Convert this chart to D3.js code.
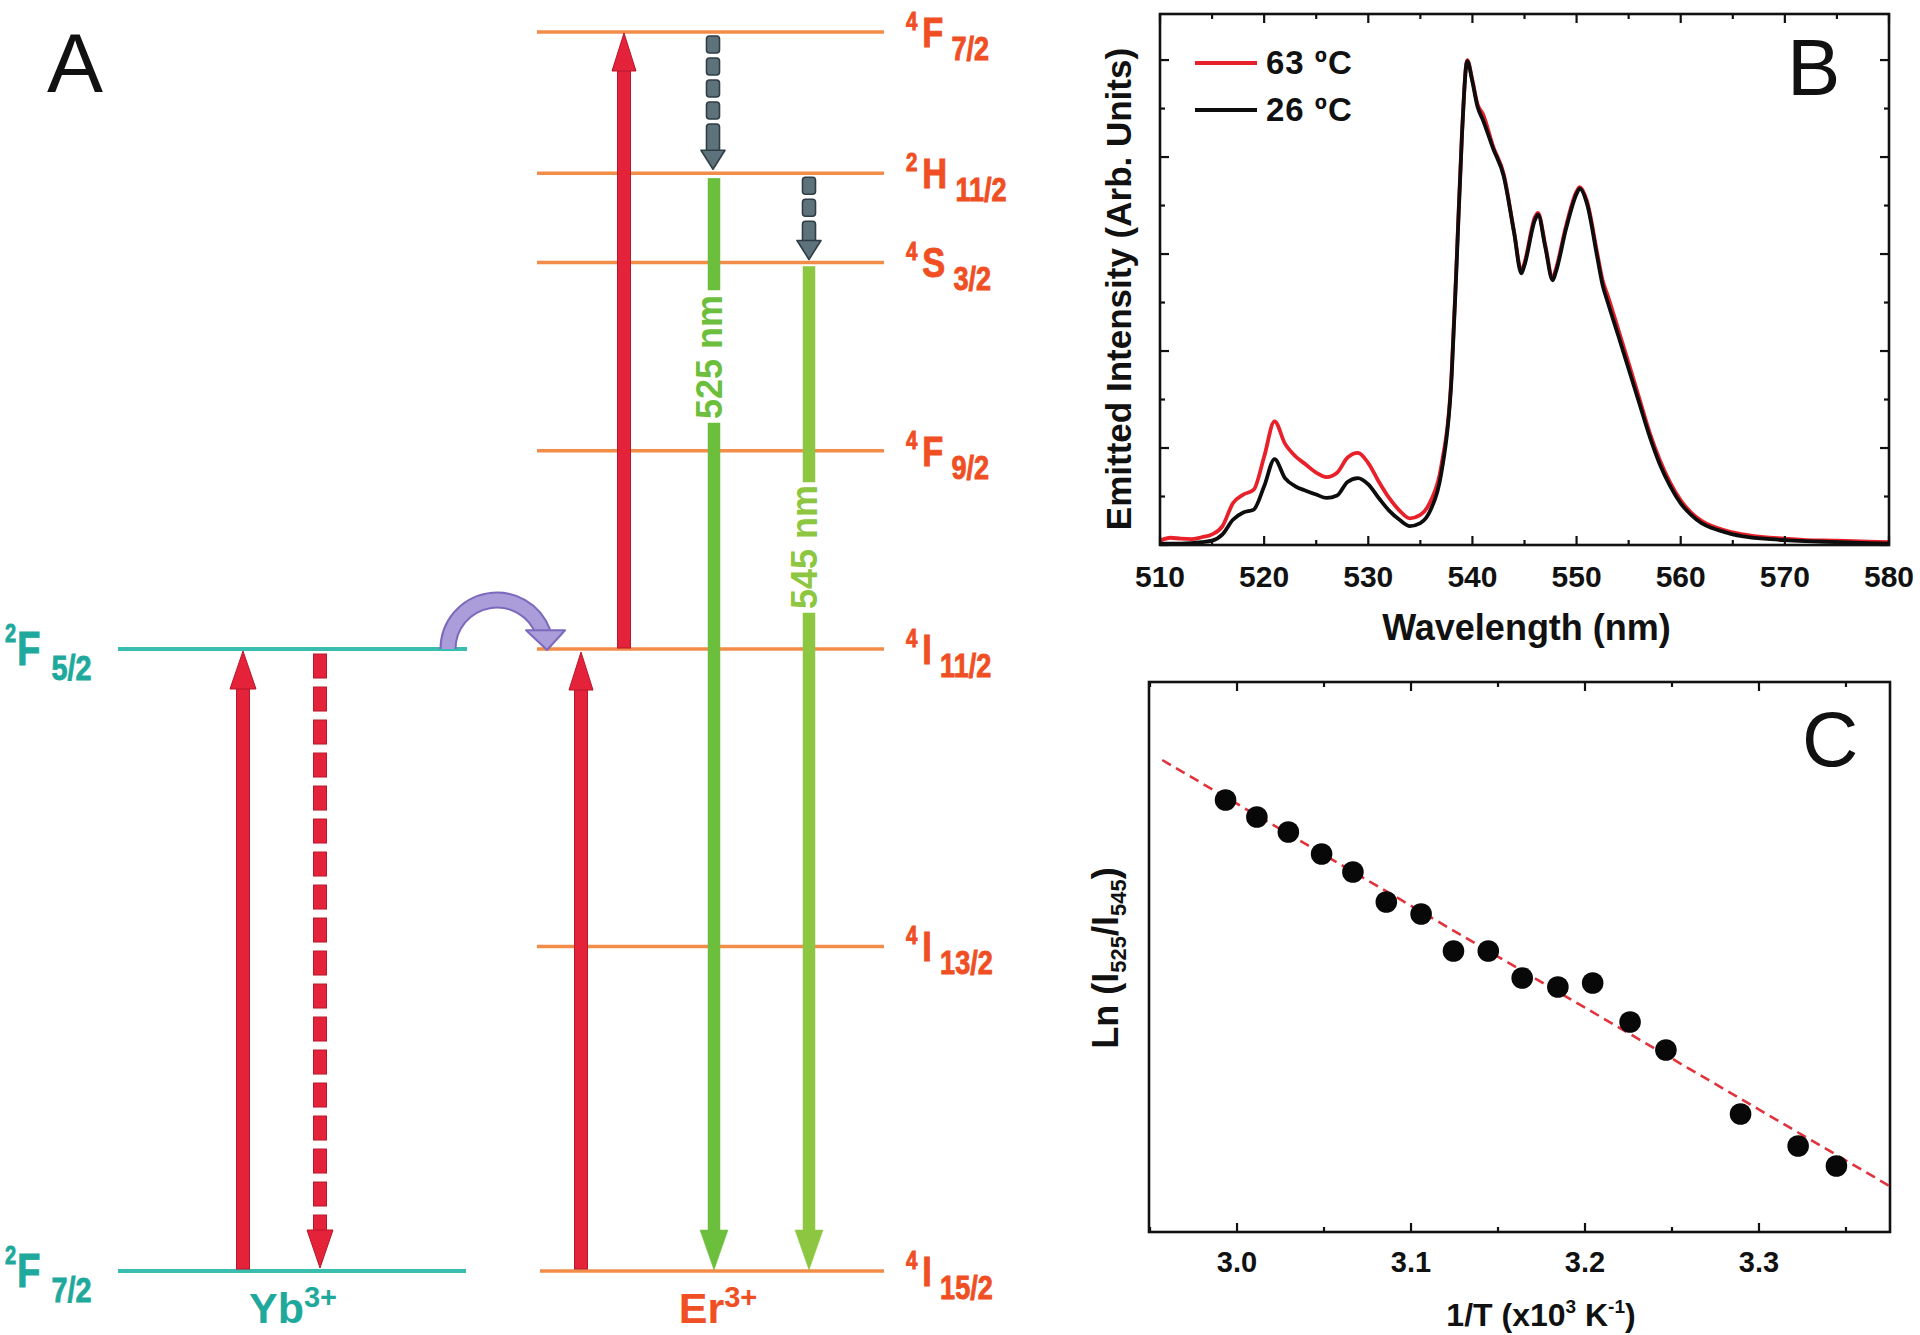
<!DOCTYPE html>
<html><head><meta charset="utf-8">
<script src="https://cdn.jsdelivr.net/npm/d3@7/dist/d3.min.js"></script>
<style>
html,body{margin:0;padding:0;background:#fff;}
svg{display:block;font-family:"Liberation Sans",Arial,Helvetica,sans-serif;}
</style></head>
<body>
<svg id="c" width="1920" height="1335"></svg>
<script>
// ---------------- DATA ----------------
// Panel B: emission spectra
const wavelength = [510,511,512,513,514,515,516,517,518,519,520,521,522,523,524,525,526,527,528,529,530,531,532,533,534,535,536,537,538,538.5,539,539.5,540,540.5,541,542,543,544,544.7,545,546,546.3,547,547.7,548,549,550,550.3,551,552,552.5,553,554,555,556,557,558,559,560,561,562,563,564,565,566,568,570,572,575,578,580];
const intensity26 = [0.03,0.03,0.03,0.04,0.06,0.09,0.22,0.52,0.67,0.73,1.21,1.77,1.38,1.21,1.12,1.04,0.97,1.02,1.30,1.38,1.25,0.97,0.71,0.52,0.39,0.45,0.73,1.47,3.46,5.88,8.47,9.98,9.55,9.03,8.77,8.17,7.61,6.44,5.60,5.77,6.70,6.81,6.14,5.46,5.62,6.53,7.24,7.35,7.04,5.92,5.36,5.00,4.32,3.63,2.94,2.25,1.66,1.21,0.86,0.62,0.45,0.35,0.28,0.22,0.18,0.13,0.10,0.08,0.06,0.04,0.03];
const intensity63 = [0.09,0.15,0.13,0.12,0.16,0.22,0.39,0.86,1.04,1.14,1.82,2.55,2.09,1.83,1.66,1.49,1.40,1.49,1.80,1.90,1.69,1.31,0.97,0.71,0.55,0.62,0.91,1.62,3.54,5.95,8.51,10.0,9.58,9.08,8.89,8.21,7.65,6.46,5.65,5.82,6.76,6.85,6.18,5.51,5.68,6.59,7.29,7.38,7.09,6.00,5.46,5.14,4.45,3.75,3.04,2.33,1.75,1.28,0.92,0.67,0.50,0.39,0.32,0.26,0.22,0.16,0.13,0.10,0.09,0.07,0.06];
const seriesNames = ["63 \u00BAC","26 \u00BAC"];
const wlTicks = [510,520,530,540,550,560,570,580];
const wlMinorTicks = [515,525,535,545,555,565,575];
const intTicks = [0,1,2,3,4,5,6,7,8,9,10];

// Panel C: Ln(I525/I545) vs 1/T
const invT = [2.9934,3.0114,3.0295,3.0486,3.0666,3.0858,3.1058,3.1244,3.1444,3.1639,3.1844,3.2044,3.2259,3.2465,3.2894,3.3225,3.3445];
const lnRatio = [-1.618,-1.635,-1.650,-1.672,-1.690,-1.720,-1.732,-1.769,-1.769,-1.796,-1.805,-1.801,-1.840,-1.868,-1.932,-1.964,-1.984];
const fitX = [2.957,3.375];
const fitY = [-1.578,-2.004];
const invTTicks = [3.0,3.1,3.2,3.3];
const invTMinorTicks = [2.95,3.05,3.15,3.25,3.35];

// Panel A: energy levels (relative diagram height)
const erSup  = ["4","4","4","4","4","2","4"];
const erTerm = ["I","I","I","F","S","H","F"];
const erJ    = ["15/2","13/2","11/2","9/2","3/2","11/2","7/2"];
const erLevel = [0,26.2,50.2,66.2,81.4,88.6,100];
const ybSup  = ["2","2"];
const ybTerm = ["F","F"];
const ybJ    = ["7/2","5/2"];
const ybLevel = [0,50.2];
const emissionLabels = ["525 nm","545 nm"];

// ---------------- DRAW ----------------
const svg = d3.select("#c");
const INK = "#111";

// ===== Panel B =====
(function(){
  const L=1160,R=1889,T=14,B=545;
  const x = d3.scaleLinear().domain([510,580]).range([L,R]);
  const y = d3.scaleLinear().domain([0,10.95]).range([B,T]);
  const g = svg.append("g");
  svg.append("clipPath").attr("id","clipB").append("rect").attr("x",L).attr("y",T).attr("width",R-L).attr("height",B-T);

  const line = d3.line().x((d,i)=>x(wavelength[i])).y(d=>y(d)).curve(d3.curveMonotoneX);
  g.append("path").datum(intensity63).attr("d",line).attr("fill","none").attr("stroke","#e8202a").attr("stroke-width",3.8).attr("clip-path","url(#clipB)");
  g.append("path").datum(intensity26).attr("d",line).attr("fill","none").attr("stroke","#0d0d0d").attr("stroke-width",3.8).attr("clip-path","url(#clipB)");

  const tk = g.append("g").attr("stroke",INK).attr("stroke-width",2.2);
  wlTicks.forEach(v=>{tk.append("line").attr("x1",x(v)).attr("x2",x(v)).attr("y1",B).attr("y2",B-9);
                     tk.append("line").attr("x1",x(v)).attr("x2",x(v)).attr("y1",T).attr("y2",T+9);});
  wlMinorTicks.forEach(v=>{tk.append("line").attr("x1",x(v)).attr("x2",x(v)).attr("y1",B).attr("y2",B-5);
                     tk.append("line").attr("x1",x(v)).attr("x2",x(v)).attr("y1",T).attr("y2",T+5);});
  intTicks.forEach(v=>{const len = v%2===0?9:5;
    tk.append("line").attr("x1",L).attr("x2",L+len).attr("y1",y(v)).attr("y2",y(v));
    tk.append("line").attr("x1",R).attr("x2",R-len).attr("y1",y(v)).attr("y2",y(v));});
  g.append("rect").attr("x",L).attr("y",T).attr("width",R-L).attr("height",B-T).attr("fill","none").attr("stroke",INK).attr("stroke-width",2.6);

  g.append("g").selectAll("text").data(wlTicks).join("text")
    .attr("x",d=>x(d)).attr("y",587).attr("text-anchor","middle")
    .attr("font-size",30).attr("font-weight","bold").attr("fill",INK).text(d=>d);
  g.append("text").attr("x",(L+R)/2+2).attr("y",640).attr("text-anchor","middle")
    .attr("font-size",36).attr("font-weight","bold").attr("fill",INK).text("Wavelength (nm)");
  g.append("text").attr("transform","translate(1131,289) rotate(-90)").attr("text-anchor","middle")
    .attr("font-size",35).attr("font-weight","bold").attr("fill",INK).text("Emitted Intensity (Arb. Units)");

  const lcol = ["#e8202a","#0d0d0d"];
  seriesNames.forEach((n,i)=>{
    const yy = 63 + i*47;
    g.append("line").attr("x1",1195).attr("x2",1257).attr("y1",yy).attr("y2",yy).attr("stroke",lcol[i]).attr("stroke-width",4);
    g.append("text").attr("x",1266).attr("y",yy+11).attr("font-size",33).attr("letter-spacing",1).attr("font-weight","bold").attr("fill",INK).text(n);
  });
  g.append("text").attr("x",1787).attr("y",95).attr("font-size",80).attr("fill",INK).text("B");
})();

// ===== Panel C =====
(function(){
  const L=1149,R=1890,T=682,B=1232;
  const x = d3.scaleLinear().domain([2.9494,3.3753]).range([L,R]);
  const y = d3.scaleLinear().domain([-2.05,-1.5]).range([B,T]);
  const g = svg.append("g");
  const tk = g.append("g").attr("stroke",INK).attr("stroke-width",2.2);
  invTTicks.forEach(v=>{tk.append("line").attr("x1",x(v)).attr("x2",x(v)).attr("y1",B).attr("y2",B-9);
                        tk.append("line").attr("x1",x(v)).attr("x2",x(v)).attr("y1",T).attr("y2",T+9);});
  invTMinorTicks.forEach(v=>{tk.append("line").attr("x1",x(v)).attr("x2",x(v)).attr("y1",B).attr("y2",B-5);
                        tk.append("line").attr("x1",x(v)).attr("x2",x(v)).attr("y1",T).attr("y2",T+5);});
  g.append("rect").attr("x",L).attr("y",T).attr("width",R-L).attr("height",B-T).attr("fill","none").attr("stroke",INK).attr("stroke-width",2.6);

  g.append("line").attr("x1",x(fitX[0])).attr("y1",y(fitY[0])).attr("x2",x(fitX[1])).attr("y2",y(fitY[1]))
    .attr("stroke","#e2333d").attr("stroke-width",2.6).attr("stroke-dasharray","10,6");
  g.append("g").selectAll("circle").data(invT).join("circle")
    .attr("cx",d=>x(d)).attr("cy",(d,i)=>y(lnRatio[i])).attr("r",10.8).attr("fill","#080808");

  g.append("g").selectAll("text").data(invTTicks).join("text")
    .attr("x",d=>x(d)).attr("y",1272).attr("text-anchor","middle")
    .attr("font-size",29).attr("font-weight","bold").attr("fill",INK).text(d=>d.toFixed(1));
  const xl = g.append("text").attr("x",1541).attr("y",1326).attr("text-anchor","middle")
    .attr("font-size",32).attr("font-weight","bold").attr("fill",INK);
  xl.append("tspan").text("1/T (x10");
  xl.append("tspan").attr("font-size",19).attr("dy",-13).text("3");
  xl.append("tspan").attr("dy",13).text(" K");
  xl.append("tspan").attr("font-size",19).attr("dy",-13).text("-1");
  xl.append("tspan").attr("dy",13).text(")");
  const yl = g.append("text").attr("transform","translate(1118,958) rotate(-90)").attr("text-anchor","middle")
    .attr("font-size",36).attr("font-weight","bold").attr("fill",INK);
  yl.append("tspan").text("Ln (I");
  yl.append("tspan").attr("font-size",22).attr("dy",8).text("525");
  yl.append("tspan").attr("dy",-8).text("/I");
  yl.append("tspan").attr("font-size",22).attr("dy",8).text("545");
  yl.append("tspan").attr("dy",-8).text(")");
  g.append("text").attr("x",1802).attr("y",766).attr("font-size",78).attr("fill",INK).text("C");
})();

// ===== Panel A =====
(function(){
  const g = svg.append("g");
  const lv = d3.scaleLinear().domain([0,100]).range([1271,32]);
  const ER_LINE="#f28c48", YB_LINE="#38bdb0", ER_TXT="#f04e23", YB_TXT="#1fa99c";
  const RED="#e4223a", RED_E="#b8172b", GRN1="#6cbf3c", GRN2="#8dc640", GRY="#5e727c", GRY_E="#2f3e45";

  g.append("g").selectAll("line").data(erLevel).join("line")
    .attr("x1",(d,i)=>i===0?540:537).attr("x2",884).attr("y1",d=>lv(d)).attr("y2",d=>lv(d))
    .attr("stroke",ER_LINE).attr("stroke-width",3.5);
  g.append("g").selectAll("line").data(ybLevel).join("line")
    .attr("x1",118).attr("x2",(d,i)=>i===0?466:467).attr("y1",d=>lv(d)).attr("y2",d=>lv(d))
    .attr("stroke",YB_LINE).attr("stroke-width",4);

  function label(x,y,sup,term,j,o){
    const lg = g.append("g").attr("transform",`translate(${x},${y}) scale(${o.sx},1)`)
      .attr("font-weight","bold").attr("fill",o.color).attr("stroke",o.color).attr("stroke-width",0.9);
    const t1 = lg.append("text").attr("x",0).attr("y",o.dSup).attr("font-size",o.fSup).text(sup);
    const w1 = t1.node().getComputedTextLength();
    const t2 = lg.append("text").attr("x",w1+o.g1).attr("y",o.dMain).attr("font-size",o.fMain).text(term);
    const w2 = t2.node().getComputedTextLength();
    lg.append("text").attr("x",w1+o.g1+w2+o.g2).attr("y",o.dSub).attr("font-size",o.fSub).text(j);
  }
  const erOpt = {sx:0.82,color:ER_TXT,fSup:25,fMain:42,fSub:33,dSup:-2,dMain:15,dSub:28,g1:6,g2:10};
  const ybOpt = {sx:0.8,color:YB_TXT,fSup:25,fMain:48,fSub:36,dSup:-7,dMain:16,dSub:31,g1:1,g2:14};
  erLevel.forEach((d,i)=>label(906,lv(d),erSup[i],erTerm[i],erJ[i],erOpt));
  ybLevel.forEach((d,i)=>label(5,lv(d),ybSup[i],ybTerm[i],ybJ[i],ybOpt));

  const yb = g.append("text").attr("x",293).attr("y",1323).attr("text-anchor","middle")
    .attr("font-size",43).attr("font-weight","bold").attr("fill",YB_TXT);
  yb.append("tspan").text("Yb"); yb.append("tspan").attr("font-size",29).attr("dy",-16).text("3+");
  const er = g.append("text").attr("x",718).attr("y",1323).attr("text-anchor","middle")
    .attr("font-size",43).attr("font-weight","bold").attr("fill",ER_TXT);
  er.append("tspan").text("Er"); er.append("tspan").attr("font-size",29).attr("dy",-16).text("3+");

  function arrow(x,y0,y1,o){
    const s = y1>y0?1:-1;
    const base = y1 - s*o.hl;
    const a = g.append("g");
    const seg = (ya,yb)=>a.append("rect").attr("x",x-o.w/2).attr("y",Math.min(ya,yb)).attr("width",o.w)
      .attr("height",Math.abs(yb-ya)).attr("rx",o.rx||0).attr("fill",o.fill).attr("stroke",o.edge).attr("stroke-width",o.ew||1);
    if(o.dash){
      let yy=y0;
      while(s*(base-yy)>0){
        let e = yy + s*o.dash[0];
        if(s*(base-e) < o.dash[0]*0.9) e = base + s*2;
        seg(yy,e);
        yy = e + s*o.dash[1];
      }
    } else if(o.gap){
      seg(y0,o.gap[0]); seg(o.gap[1],base+s*1);
    } else seg(y0,base+s*1);
    a.append("path").attr("d",`M${x-o.hw/2},${base} L${x+o.hw/2},${base} L${x},${y1} Z`)
      .attr("fill",o.fill).attr("stroke",o.edge).attr("stroke-width",o.ew||1).attr("stroke-linejoin","round");
    return a;
  }
  const red = {w:13,hw:26,hl:38,fill:RED,edge:RED_E,ew:1};
  arrow(243, lv(ybLevel[0])-2, lv(ybLevel[1])+2, red);
  arrow(320, lv(ybLevel[1])+5, lv(ybLevel[0])-3, Object.assign({},red,{dash:[24,9]}));
  arrow(581, lv(erLevel[0])-2, lv(erLevel[2])+3, Object.assign({},red,{hw:24}));
  arrow(624, lv(erLevel[2])-1, lv(erLevel[6])+1, Object.assign({},red,{hw:24}));
  const grey = {w:13,hw:24,hl:19,fill:GRY,edge:GRY_E,ew:1.6,rx:3,dash:[17,5]};
  arrow(713, lv(erLevel[6])+4, lv(erLevel[5])-4, grey);
  arrow(809, lv(erLevel[5])+4, lv(erLevel[4])-3, grey);
  arrow(714, lv(erLevel[5])+5, lv(erLevel[0])-1, {w:12,hw:28,hl:40,fill:GRN1,edge:GRN1,ew:0.5,gap:[290,423]});
  arrow(809, lv(erLevel[4])+4, lv(erLevel[0])-1, {w:12,hw:28,hl:40,fill:GRN2,edge:GRN2,ew:0.5,gap:[482,613]});
  g.append("text").attr("transform","translate(722,357) rotate(-90)").attr("text-anchor","middle")
    .attr("font-size",36).attr("font-weight","bold").attr("fill",GRN1).text(emissionLabels[0]);
  g.append("text").attr("transform","translate(817,547) rotate(-90)").attr("text-anchor","middle")
    .attr("font-size",36).attr("font-weight","bold").attr("fill",GRN2).text(emissionLabels[1]);

  const cx=497, cy=lv(ybLevel[1]), r=49, ang=20*Math.PI/180;
  const ex = cx + r*Math.cos(ang), ey = cy - r*Math.sin(ang);
  const arcD = `M${cx-r},${cy} A${r},${r} 0 0 1 ${ex},${ey}`;
  g.append("path").attr("d",arcD).attr("fill","none").attr("stroke","#7b69bd").attr("stroke-width",17);
  g.append("path").attr("d",arcD).attr("fill","none").attr("stroke","#ab9dd9").attr("stroke-width",13);
  g.append("path").attr("d",`M${ex-17},${ey-2} L${ex+22},${ey-2} L${ex+4},${cy+1} Z`)
    .attr("fill","#ab9dd9").attr("stroke","#7b69bd").attr("stroke-width",2).attr("stroke-linejoin","round");

  g.append("text").attr("x",47).attr("y",92).attr("font-size",84).attr("fill",INK).text("A");
})();
</script>
</body></html>
